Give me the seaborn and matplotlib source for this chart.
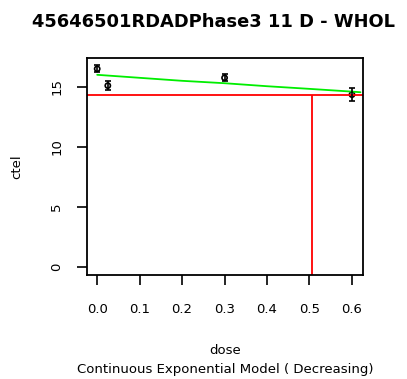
import matplotlib
matplotlib.use("Agg")
import matplotlib.pyplot as plt
import seaborn as sns
import pandas as pd

# Observed group means with error bar half-widths
dose = [0.0, 0.025, 0.3, 0.6]
mean = [16.5, 15.1, 15.75, 14.35]
err = [0.3, 0.35, 0.3, 0.55]

# Fitted exponential model curve
fit_dose = [0.0, 0.1, 0.2, 0.3, 0.4, 0.5, 0.6, 0.62]
fit_resp = [16.0, 15.75, 15.5, 15.3, 15.05, 14.83, 14.6, 14.55]

# Benchmark response level and benchmark dose
bmr_level = 14.33
bmd = 0.506

x_ticks = [0.0, 0.1, 0.2, 0.3, 0.4, 0.5, 0.6]
x_tick_labels = ["0.0", "0.1", "0.2", "0.3", "0.4", "0.5", "0.6"]
y_ticks = [0, 5, 10, 15]
y_tick_labels = ["0", "5", "10", "15"]

title = "45646501RDADPhase3 11 D - WHOL"
x_label = "dose"
y_label = "ctel"
subtitle = "Continuous Exponential Model ( Decreasing)"

sns.set_theme(style="white")
plt.rcParams["font.family"] = ["DejaVu Sans"]
plt.rcParams["text.color"] = "black"

W, H = 407, 379
fig = plt.figure(figsize=(W / 100, H / 100), dpi=100)
ax = fig.add_axes([87 / W, 1 - 275 / H, (363 - 87) / W, (275 - 58) / H])

obs = pd.DataFrame({"dose": dose, "mean": mean})
fit = pd.DataFrame({"dose": fit_dose, "resp": fit_resp})

sns.lineplot(data=fit, x="dose", y="resp", color="#00ee00", lw=1.3, ax=ax)
ax.axhline(bmr_level, color="#ff0000", lw=1.3)
ax.vlines(bmd, -10, bmr_level, color="#ff0000", lw=1.3)
ax.errorbar(dose, mean, yerr=err, fmt="none", ecolor="black", elinewidth=1.2,
            capsize=2.5, capthick=1.2)
sns.scatterplot(data=obs, x="dose", y="mean", marker="o", s=14,
                facecolor="none", edgecolor="black", linewidth=1.2, ax=ax)

ax.set_xlim(-0.024, 0.626)
ax.set_ylim(-0.67, 17.4)
ax.set_xticks(x_ticks)
ax.set_xticklabels(x_tick_labels)
ax.set_yticks(y_ticks)
ax.set_yticklabels(y_tick_labels, rotation=90, va="center")
ax.tick_params(axis="both", direction="out", length=7, width=1.2,
               color="black", labelcolor="black", labelsize=9.5, left=True,
               bottom=True)
ax.tick_params(axis="x", pad=13)
ax.tick_params(axis="y", pad=10)
for s in ax.spines.values():
    s.set_color("black")
    s.set_linewidth(1.3)
ax.set_xlabel("")
ax.set_ylabel("")

fig.text(214 / W, 1 - 22 / H, title, ha="center", va="center",
         fontsize=12.9, fontweight="bold", color="black")
fig.text(17 / W, 1 - 167 / H, y_label, ha="center", va="center",
         rotation=90, fontsize=9.5, color="black")
fig.text(225 / W, 1 - 350 / H, x_label, ha="center", va="center",
         fontsize=9.5, color="black")
fig.text(225 / W, 1 - 369 / H, subtitle, ha="center", va="center",
         fontsize=9.5, color="black")

fig.savefig("out.png", dpi=100, facecolor="white")
